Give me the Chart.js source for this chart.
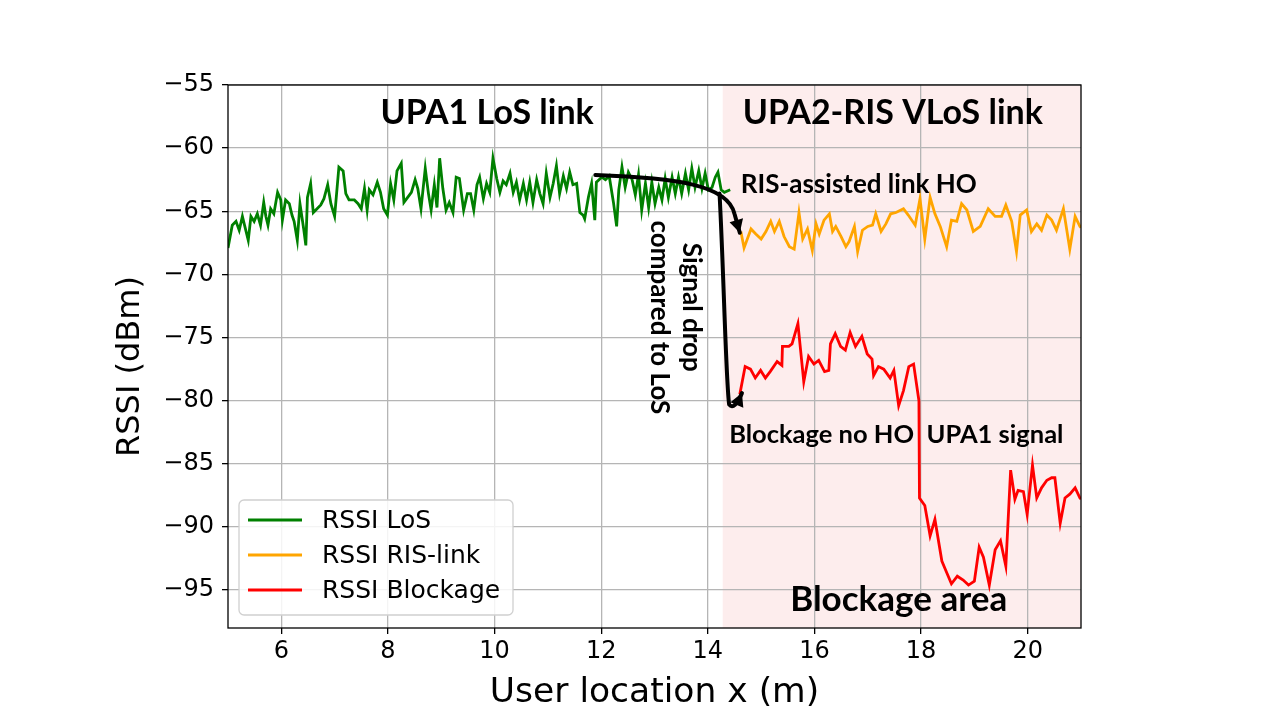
<!DOCTYPE html>
<html><head><meta charset="utf-8">
<script src="https://cdn.jsdelivr.net/npm/chart.js@4/dist/chart.umd.min.js"></script>
<style>html,body{margin:0;padding:0;background:#fff;}#wrap{width:1280px;height:720px;}</style>
</head><body><div id="wrap"><canvas id="c" width="1280" height="720"></canvas></div>
<script>
// ---- data ----
const losX=[5.00,5.08,5.15,5.21,5.27,5.31,5.38,5.43,5.49,5.55,5.61,5.67,5.71,5.75,5.80,5.86,5.93,5.99,6.02,6.08,6.15,6.20,6.24,6.30,6.35,6.42,6.46,6.49,6.55,6.60,6.67,6.74,6.80,6.87,6.93,7.00,7.08,7.16,7.21,7.27,7.37,7.44,7.50,7.56,7.61,7.65,7.72,7.80,7.86,7.92,7.99,8.05,8.11,8.17,8.25,8.30,8.37,8.44,8.51,8.56,8.62,8.70,8.76,8.81,8.87,8.92,8.97,9.03,9.09,9.15,9.22,9.28,9.34,9.42,9.49,9.55,9.61,9.67,9.72,9.79,9.85,9.91,9.97,10.04,10.10,10.16,10.22,10.29,10.35,10.41,10.47,10.54,10.60,10.66,10.72,10.79,10.85,10.91,10.97,11.04,11.10,11.16,11.22,11.29,11.35,11.41,11.47,11.54,11.60,11.66,11.69,11.76,11.82,11.88,11.91,12.01,12.08,12.15,12.23,12.29,12.33,12.39,12.45,12.51,12.58,12.64,12.70,12.76,12.83,12.89,12.95,13.01,13.08,13.14,13.20,13.26,13.33,13.39,13.45,13.51,13.58,13.64,13.70,13.76,13.83,13.89,13.95,14.01,14.08,14.14,14.19,14.25,14.31,14.42];
const losY=[-67.9,-66.1,-65.8,-66.5,-65.4,-66.1,-67.3,-65.4,-65.8,-65.2,-66.1,-64.3,-65.4,-66.1,-64.8,-65.2,-63.5,-64.1,-65.7,-64.1,-64.4,-65.3,-65.8,-67.3,-64.4,-66.4,-67.7,-63.9,-62.8,-65.1,-64.8,-64.5,-64.0,-62.9,-64.4,-65.4,-61.5,-61.8,-63.6,-64.1,-64.1,-64.4,-64.8,-63.2,-64.9,-63.3,-63.7,-62.7,-63.5,-64.8,-65.3,-62.8,-64.1,-61.8,-61.2,-64.3,-63.9,-63.5,-62.5,-63.2,-64.8,-61.6,-63.6,-64.9,-62.9,-64.7,-60.8,-63.2,-64.9,-64.3,-65.1,-62.3,-62.4,-64.9,-63.6,-63.6,-64.9,-62.9,-62.3,-64.0,-62.8,-63.5,-60.8,-62.4,-63.5,-62.6,-62.9,-62.0,-63.5,-62.7,-64.1,-62.8,-64.1,-62.7,-64.3,-62.5,-63.6,-64.4,-62.0,-63.9,-62.8,-61.4,-63.6,-62.2,-63.2,-61.9,-62.9,-62.8,-65.1,-65.3,-65.6,-63.9,-62.8,-65.7,-62.7,-62.3,-62.5,-62.2,-64.3,-66.2,-63.3,-61.5,-63.1,-61.9,-62.5,-63.7,-62.1,-64.9,-62.8,-64.7,-62.7,-64.4,-63.1,-64.1,-62.4,-63.9,-62.3,-63.6,-62.3,-63.6,-62.0,-63.3,-61.6,-63.1,-61.8,-63.2,-62.0,-63.3,-63.1,-62.3,-61.9,-63.3,-63.5,-63.3];
const risX=[14.62,14.68,14.81,14.90,15.00,15.09,15.18,15.25,15.34,15.43,15.53,15.62,15.71,15.78,15.87,15.96,16.03,16.09,16.18,16.28,16.34,16.40,16.50,16.59,16.65,16.75,16.81,16.90,17.00,17.09,17.15,17.25,17.34,17.43,17.53,17.67,17.76,17.89,17.98,18.07,18.17,18.26,18.36,18.48,18.57,18.67,18.76,18.86,18.98,19.11,19.26,19.39,19.51,19.59,19.70,19.79,19.86,19.98,20.07,20.17,20.26,20.36,20.45,20.54,20.67,20.79,20.89,20.98,21.00];
const risY=[-66.6,-67.9,-66.4,-66.8,-67.2,-66.6,-65.8,-66.6,-65.8,-67.0,-67.8,-68.0,-65.1,-67.2,-66.4,-68.1,-66.0,-66.8,-65.7,-65.2,-66.6,-66.2,-67.0,-67.8,-67.4,-66.2,-68.2,-66.5,-66.2,-66.1,-65.2,-66.6,-66.0,-65.2,-65.1,-64.8,-65.3,-66.1,-64.0,-67.2,-63.9,-65.2,-66.2,-67.8,-65.7,-65.8,-64.4,-64.9,-66.6,-66.2,-64.8,-65.4,-65.4,-64.5,-65.8,-68.2,-65.3,-64.9,-66.6,-66.0,-66.5,-65.3,-65.7,-66.5,-64.8,-68.0,-65.4,-66.2,-66.3];
const blkX=[14.60,14.70,14.80,14.89,14.99,15.08,15.17,15.30,15.39,15.40,15.52,15.58,15.69,15.80,15.89,15.99,16.08,16.19,16.27,16.30,16.39,16.49,16.58,16.67,16.77,16.89,16.99,17.08,17.11,17.20,17.30,17.42,17.49,17.58,17.67,17.77,17.86,17.96,17.97,18.07,18.17,18.26,18.39,18.48,18.57,18.68,18.79,18.89,19.00,19.09,19.17,19.28,19.39,19.49,19.59,19.68,19.76,19.82,19.92,19.99,20.09,20.17,20.26,20.36,20.45,20.51,20.61,20.70,20.79,20.89,20.98,21.00];
const blkY=[-79.5,-77.3,-77.5,-78.2,-77.6,-78.2,-77.7,-76.9,-77.2,-75.7,-75.7,-75.5,-73.9,-78.5,-76.5,-77.1,-76.8,-77.7,-77.6,-75.5,-74.7,-75.7,-76.0,-74.6,-75.7,-74.9,-76.3,-76.7,-78.0,-77.3,-77.5,-78.2,-77.6,-80.4,-79.2,-77.3,-77.1,-80.0,-87.7,-88.3,-90.7,-89.4,-92.7,-93.6,-94.5,-93.9,-94.2,-94.6,-94.3,-91.6,-92.4,-94.6,-91.8,-91.1,-93.1,-85.5,-87.8,-87.1,-87.2,-89.0,-85.1,-87.7,-86.9,-86.3,-86.1,-86.1,-89.7,-87.7,-87.4,-86.9,-87.7,-87.8];
const xTicks=[6,8,10,12,14,16,18,20];
const yTicks=[-55,-60,-65,-70,-75,-80,-85,-90,-95];
const xRange=[5,21];
const yRange=[-98,-55];
const seriesNames=['RSSI LoS','RSSI RIS-link','RSSI Blockage'];
const seriesColors=['#008000','#FFA500','#FF0000'];
const shadeFrom=14.28;
// annotations (data coordinates)
const labels=[
 {t:'UPA1 LoS link',x:9.86,y:-57.2,size:34,align:'center',rot:0},
 {t:'UPA2-RIS VLoS link',x:17.47,y:-57.2,size:34,align:'center',rot:0},
 {t:'RIS-assisted link HO',x:14.62,y:-62.9,size:26,align:'left',rot:0},
 {t:'Blockage no HO  UPA1 signal',x:14.40,y:-82.7,size:25.5,align:'left',rot:0},
 {t:'Blockage area',x:17.58,y:-95.8,size:35,align:'center',rot:0},
 {t:'Signal drop',x:13.70,y:-72.6,size:26,align:'center',rot:1},
 {t:'compared to LoS',x:13.09,y:-73.4,size:26,align:'center',rot:1}
];
const arrow1=[[11.89,-62.13],[13.4,-62.35],[14.38,-62.9],[14.5,-65.2],[14.6,-66.7]];
const arrow2=[[14.22,-63.6],[14.30,-70],[14.34,-78.5],[14.40,-80.3],[14.50,-80.8],[14.64,-79.4]];

const toPts=(xs,ys)=>xs.map((x,i)=>({x:x,y:ys[i]}));
const fmt=v=>String(v).replace('-','\u2212');

const bgPlugin={id:'bg',beforeDraw(ch){
  const {ctx,chartArea:a,scales:{x}}=ch;
  ctx.save();ctx.fillStyle='#fff';ctx.fillRect(0,0,ch.width,ch.height);
  const px=x.getPixelForValue(shadeFrom);
  ctx.fillStyle='#fdeded';ctx.fillRect(px,a.top,a.right-px,a.bottom-a.top);
  ctx.restore();
}};
function head(ctx,fx,fy,tx,ty,len,w){
  const ang=Math.atan2(ty-fy,tx-fx);
  ctx.beginPath();ctx.moveTo(tx,ty);
  ctx.lineTo(tx-len*Math.cos(ang)+w*Math.sin(ang),ty-len*Math.sin(ang)-w*Math.cos(ang));
  ctx.lineTo(tx-len*Math.cos(ang)-w*Math.sin(ang),ty-len*Math.sin(ang)+w*Math.cos(ang));
  ctx.closePath();ctx.fill();
}
const annPlugin={id:'ann',afterDraw(ch){
  const {ctx,chartArea:a,scales:{x,y}}=ch;
  const P=p=>[x.getPixelForValue(p[0]),y.getPixelForValue(p[1])];
  ctx.save();
  ctx.strokeStyle='#000';ctx.lineWidth=1.3;ctx.strokeRect(a.left,a.top,a.right-a.left,a.bottom-a.top);
  ctx.strokeStyle='#000';ctx.fillStyle='#000';ctx.lineWidth=4;ctx.lineCap='round';ctx.lineJoin='round';
  let q=arrow1.map(P);
  ctx.beginPath();ctx.moveTo(...q[0]);ctx.bezierCurveTo(...q[1],...q[2],...q[3]);ctx.lineTo(...q[4]);ctx.stroke();
  head(ctx,...q[3],...q[4],13,7);
  q=arrow2.map(P);
  ctx.beginPath();ctx.moveTo(...q[0]);ctx.bezierCurveTo(...q[1],...q[2],...q[3]);ctx.quadraticCurveTo(...q[4],...q[5]);ctx.stroke();
  head(ctx,...q[4],...q[5],13,7);
  ctx.fillStyle='#000';
  labels.forEach(l=>{
    const [px,py]=P([l.x,l.y]);
    ctx.save();ctx.translate(px,py);if(l.rot)ctx.rotate(Math.PI/2);
    ctx.font='bold '+l.size+'px Lato';ctx.textAlign=l.align;ctx.textBaseline='middle';
    ctx.fillText(l.t,0,0);ctx.restore();
  });
  ctx.textAlign='center';ctx.textBaseline='middle';
  ctx.font='34.5px "DejaVu Sans"';
  ctx.fillText('User location x (m)',(a.left+a.right)/2,693);
  ctx.font='32px "DejaVu Sans"';
  ctx.save();ctx.translate(131,(a.top+a.bottom)/2+10);ctx.rotate(-Math.PI/2);ctx.fillText('RSSI (dBm)',0,0);ctx.restore();
  const lx=a.left+11,ly=a.bottom-128,lw=274,lh=115;
  ctx.beginPath();ctx.roundRect(lx,ly,lw,lh,5);ctx.fillStyle='rgba(255,255,255,0.85)';ctx.fill();
  ctx.strokeStyle='#d0d0d0';ctx.lineWidth=1.3;ctx.stroke();
  ctx.font='25px "DejaVu Sans"';ctx.textAlign='left';ctx.textBaseline='middle';
  ch.data.datasets.forEach((d,i)=>{
    const yy=ly+20+i*35;
    ctx.strokeStyle=d.borderColor;ctx.lineWidth=3;ctx.lineCap='butt';
    ctx.beginPath();ctx.moveTo(lx+9,yy);ctx.lineTo(lx+63,yy);ctx.stroke();
    ctx.fillStyle='#000';ctx.fillText(d.label,lx+83,yy+1);
  });
  ctx.restore();
}};

const mk=(i,xs,ys)=>({label:seriesNames[i],data:toPts(xs,ys),borderColor:seriesColors[i],backgroundColor:seriesColors[i],borderWidth:2.8,pointRadius:0,tension:0,fill:false});
new Chart(document.getElementById('c'),{
  type:'line',
  data:{datasets:[mk(0,losX,losY),mk(1,risX,risY),mk(2,blkX,blkY)]},
  options:{
    responsive:false,animation:false,devicePixelRatio:1,parsing:true,
    layout:{padding:{left:0,top:85,right:199,bottom:0}},
    plugins:{legend:{display:false},tooltip:{enabled:false}},
    scales:{
      x:{type:'linear',min:xRange[0],max:xRange[1],
        afterBuildTicks:s=>{s.ticks=xTicks.map(v=>({value:v}));},
        afterFit:s=>{s.height=92;},
        grid:{color:'#b5b5b5',lineWidth:1.3,tickColor:'#000',tickLength:6,drawOnChartArea:true},
        border:{display:false},
        ticks:{font:{family:'DejaVu Sans',size:24},color:'#000',padding:3,maxRotation:0,autoSkip:false,callback:v=>fmt(v)}},
      y:{type:'linear',min:yRange[0],max:yRange[1],
        afterBuildTicks:s=>{s.ticks=yTicks.map(v=>({value:v}));},
        afterFit:s=>{s.width=228;},
        grid:{color:'#b5b5b5',lineWidth:1.3,tickColor:'#000',tickLength:6},
        border:{display:false},
        ticks:{font:{family:'DejaVu Sans',size:24},color:'#000',padding:8,autoSkip:false,callback:v=>fmt(v)}}
    }
  },
  plugins:[bgPlugin,annPlugin]
});
</script></body></html>
